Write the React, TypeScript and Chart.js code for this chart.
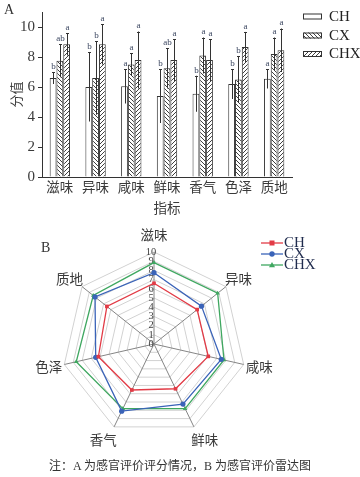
import React, { useEffect, useRef } from 'react';
import { Chart, registerables } from 'chart.js';

Chart.register(...registerables);

// ---------- data ----------
const categories = ['滋味', '异味', '咸味', '鲜味', '香气', '色泽', '质地'];
const seriesNames = ['CH', 'CX', 'CHX'];
const chValues = [6.6, 6.0, 6.05, 5.4, 5.55, 6.2, 6.55];
const cxValues = [7.75, 6.6, 7.5, 7.25, 8.1, 6.5, 8.2];
const chxValues = [8.85, 8.85, 7.8, 7.8, 7.8, 8.67, 8.45];
const chErrors = [0.4, 2.3, 1.15, 1.8, 1.2, 1.0, 0.65];
const cxErrors = [1.1, 2.45, 0.75, 1.35, 1.2, 1.55, 1.1];
const chxErrors = [0.75, 1.35, 1.9, 1.4, 1.4, 1.0, 1.45];
const chLetters = ['b', 'b', 'a', 'b', 'b', 'b', 'a'];
const cxLetters = ['ab', 'b', 'a', 'ab', 'a', 'b', 'a'];
const chxLetters = ['a', 'a', 'a', 'a', 'a', 'a', 'a'];
const barTicks = [0, 2, 4, 6, 8, 10];
const radarTicks = [0, 1, 2, 3, 4, 5, 6, 7, 8, 9, 10];
const radarColors = ['#e23b46', '#3a63b8', '#3fa760'];
const radarPointStyles = ['rect', 'circle', 'triangle'];
const captionText = '注：A 为感官评价评分情况，B 为感官评价雷达图';

const SERIF = "'Liberation Serif', 'Noto Sans CJK SC', serif";
const TEXT = '#3a3a3a';

const errorsBySeries = [chErrors, cxErrors, chxErrors];
const lettersBySeries = [chLetters, cxLetters, chxLetters];

function makePattern(kind: string): CanvasPattern | string {
  const s = 4;
  const c = document.createElement('canvas');
  c.width = s;
  c.height = s;
  const g = c.getContext('2d');
  if (!g) return '#fff';
  g.fillStyle = '#fff';
  g.fillRect(0, 0, s, s);
  if (kind === 'none') return g.createPattern(c, 'repeat') || '#fff';
  g.strokeStyle = '#2a2a2a';
  g.lineWidth = 0.9;
  g.beginPath();
  if (kind === 'back') {
    g.moveTo(0, 0); g.lineTo(s, s);
    g.moveTo(-1, s - 1); g.lineTo(1, s + 1);
    g.moveTo(s - 1, -1); g.lineTo(s + 1, 1);
  } else {
    g.moveTo(0, s); g.lineTo(s, 0);
    g.moveTo(-1, 1); g.lineTo(1, -1);
    g.moveTo(s - 1, s + 1); g.lineTo(s + 1, s - 1);
  }
  g.stroke();
  return g.createPattern(c, 'repeat') || '#fff';
}

const errorBarPlugin = {
  id: 'errorBarPlugin',
  afterDatasetsDraw(chart: any) {
    const ctx = chart.ctx;
    const y = chart.scales.y;
    chart.data.datasets.forEach((ds: any, di: number) => {
      const meta = chart.getDatasetMeta(di);
      const errs = errorsBySeries[di];
      const letters = lettersBySeries[di];
      meta.data.forEach((bar: any, i: number) => {
        const v = ds.data[i];
        const e = errs[i];
        const top = y.getPixelForValue(v + e);
        const bot = y.getPixelForValue(v - e);
        const x = Math.round(bar.x) + 0.5;
        ctx.save();
        ctx.strokeStyle = '#333';
        ctx.lineWidth = 1;
        ctx.beginPath();
        ctx.moveTo(x, top);
        ctx.lineTo(x, bot);
        ctx.moveTo(x - 1.5, Math.round(top) + 0.5);
        ctx.lineTo(x + 1.5, Math.round(top) + 0.5);
        ctx.stroke();
        ctx.fillStyle = '#3b4660';
        ctx.font = "9px 'Liberation Serif'";
        ctx.textAlign = 'center';
        ctx.textBaseline = 'bottom';
        ctx.fillText(letters[i], x, top - 1);
        ctx.restore();
      });
    });
  },
};

const barLegendPlugin = {
  id: 'barLegendPlugin',
  afterDraw(chart: any) {
    const ctx = chart.ctx;
    const ys = [16.5, 35.5, 54];
    chart.data.datasets.forEach((ds: any, di: number) => {
      const y = ys[di];
      ctx.save();
      ctx.fillStyle = ds.backgroundColor;
      ctx.fillRect(303, y - 3, 19, 6);
      ctx.strokeStyle = '#333';
      ctx.lineWidth = 1;
      ctx.strokeRect(303.5, y - 2.5, 18, 5);
      ctx.fillStyle = '#222';
      ctx.font = "15px 'Liberation Serif'";
      ctx.textAlign = 'left';
      ctx.textBaseline = 'middle';
      ctx.fillText(ds.label, 329, y + 0.5);
      ctx.restore();
    });
  },
};

const radarTextPlugin = {
  id: 'radarTextPlugin',
  beforeDatasetsDraw(chart: any) {
    const r = chart.scales.r;
    const ctx = chart.ctx;
    ctx.save();
    ctx.fillStyle = '#444';
    ctx.font = "10.5px 'Liberation Serif'";
    ctx.textAlign = 'center';
    ctx.textBaseline = 'middle';
    radarTicks.forEach((v) => {
      const d = r.getDistanceFromCenterForValue(v);
      ctx.fillText(String(v), r.xCenter - 3, r.yCenter - d);
    });
    ctx.fillStyle = TEXT;
    ctx.font = `13.5px ${SERIF}`;
    categories.forEach((lab, i) => {
      const p = r.getPointPosition(i, r.drawingArea + 16);
      const dx = p.x - r.xCenter;
      const dy = p.y - r.yCenter;
      let x = p.x;
      let y = p.y;
      if (dy > 40) x += Math.sign(dx) * 4;
      else if (dy < -20 && Math.abs(dx) > 20) y += 4;
      ctx.fillText(lab, x, y);
    });
    ctx.restore();
  },
};

const radarLegendPlugin = {
  id: 'radarLegendPlugin',
  afterDraw(chart: any) {
    const ctx = chart.ctx;
    const ys = [23, 34, 45];
    chart.data.datasets.forEach((ds: any, di: number) => {
      const y = ys[di];
      const col = radarColors[di];
      ctx.save();
      ctx.strokeStyle = col;
      ctx.lineWidth = 1.3;
      ctx.beginPath();
      ctx.moveTo(261, y);
      ctx.lineTo(283, y);
      ctx.stroke();
      ctx.fillStyle = col;
      const style = radarPointStyles[di];
      if (style === 'rect') {
        ctx.fillRect(269.5, y - 2.5, 5, 5);
      } else if (style === 'circle') {
        ctx.beginPath();
        ctx.arc(272, y, 2.7, 0, Math.PI * 2);
        ctx.fill();
      } else {
        ctx.beginPath();
        ctx.moveTo(272, y - 3);
        ctx.lineTo(275, y + 2.2);
        ctx.lineTo(269, y + 2.2);
        ctx.closePath();
        ctx.fill();
      }
      ctx.fillStyle = '#1f2b4d';
      ctx.font = "15px 'Liberation Serif'";
      ctx.textAlign = 'left';
      ctx.textBaseline = 'middle';
      ctx.fillText(ds.label, 284, y + 0.5);
      ctx.restore();
    });
  },
};

function BarChart() {
  const ref = useRef<HTMLCanvasElement>(null);
  useEffect(() => {
    if (!ref.current) return;
    const chart = new Chart(ref.current, {
      type: 'bar',
      data: {
        labels: categories,
        datasets: [
          { label: seriesNames[0], data: chValues, backgroundColor: makePattern('none') as any, borderColor: '#333', borderWidth: 1 },
          { label: seriesNames[1], data: cxValues, backgroundColor: makePattern('back') as any, borderColor: '#333', borderWidth: 1 },
          { label: seriesNames[2], data: chxValues, backgroundColor: makePattern('fwd') as any, borderColor: '#333', borderWidth: 1 },
        ],
      },
      options: {
        animation: false,
        responsive: false,
        maintainAspectRatio: false,
        layout: { padding: { top: 7, right: 68, left: 10, bottom: 0 } },
        datasets: { bar: { categoryPercentage: 0.57, barPercentage: 1.0 } },
        plugins: { legend: { display: false }, tooltip: { enabled: false } },
        scales: {
          x: {
            type: 'category',
            offset: true,
            grid: { display: false, drawTicks: false },
            border: { display: true, color: '#333', width: 1 },
            ticks: { font: { family: SERIF, size: 13.5 }, color: TEXT, padding: 3, maxRotation: 0 },
            title: { display: true, text: '指标', font: { family: SERIF, size: 13.5 }, color: TEXT, padding: { top: 0, bottom: 0 } },
            afterFit: (s: any) => { s.height = 41; },
          },
          y: {
            type: 'linear',
            min: 0,
            max: 11,
            afterBuildTicks: (s: any) => { s.ticks = barTicks.map((v) => ({ value: v })); },
            ticks: { font: { family: SERIF, size: 15 }, color: TEXT, padding: 3 },
            grid: { drawOnChartArea: false, drawTicks: true, tickLength: 4, color: '#333' },
            border: { display: true, color: '#333', width: 1 },
            title: { display: true, text: '分值', font: { family: SERIF, size: 13 }, color: TEXT, padding: { top: 0, bottom: 0 } },
            afterFit: (s: any) => { s.width = 32; },
          },
        },
      } as any,
      plugins: [errorBarPlugin, barLegendPlugin],
    });
    return () => chart.destroy();
  }, []);
  return <canvas ref={ref} width={360} height={218} style={{ position: 'absolute', left: 0, top: 0, width: 360, height: 218 }} />;
}

function RadarChart() {
  const ref = useRef<HTMLCanvasElement>(null);
  useEffect(() => {
    if (!ref.current) return;
    const values = [chValues, cxValues, chxValues];
    const chart = new Chart(ref.current, {
      type: 'radar',
      data: {
        labels: categories,
        datasets: values.map((d, i) => ({
          label: seriesNames[i],
          data: d,
          borderColor: radarColors[i],
          backgroundColor: radarColors[i],
          borderWidth: 1.3,
          fill: false,
          pointStyle: radarPointStyles[i] as any,
          pointRadius: 2.6,
          pointBorderWidth: 0,
          pointBackgroundColor: radarColors[i],
        })),
      },
      options: {
        animation: false,
        responsive: false,
        maintainAspectRatio: false,
        layout: { padding: { top: 32, right: 114, left: 62, bottom: 24 } },
        plugins: { legend: { display: false }, tooltip: { enabled: false } },
        scales: {
          r: {
            min: 0,
            max: 10,
            ticks: { stepSize: 1, display: false },
            grid: { color: '#d2d2d2', lineWidth: 1 },
            angleLines: { color: '#858585', lineWidth: 1 },
            pointLabels: { display: false },
          },
        },
      } as any,
      plugins: [radarTextPlugin, radarLegendPlugin],
    });
    return () => chart.destroy();
  }, []);
  return <canvas ref={ref} width={360} height={240} style={{ position: 'absolute', left: 0, top: 220, width: 360, height: 240 }} />;
}

export default function App() {
  return (
    <div style={{ position: 'fixed', left: 0, top: 0, width: 360, height: 477, background: '#fff', overflow: 'hidden' }}>
      <BarChart />
      <RadarChart />
      <div style={{ position: 'absolute', left: 4, top: 2, fontFamily: SERIF, fontSize: 14, color: '#333' }}>A</div>
      <div style={{ position: 'absolute', left: 41, top: 240, fontFamily: SERIF, fontSize: 14, color: '#333' }}>B</div>
      <div style={{ position: 'absolute', left: 0, top: 456, width: 360, textAlign: 'center', fontFamily: SERIF, fontSize: 12, color: '#333' }}>{captionText}</div>
    </div>
  );
}
